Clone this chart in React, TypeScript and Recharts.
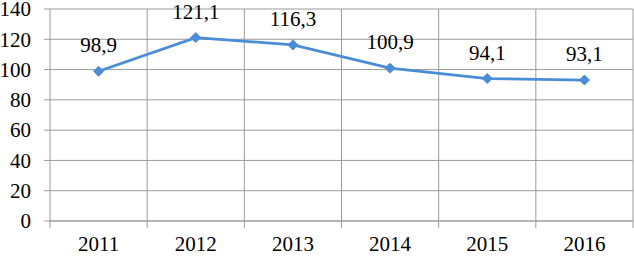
import React from 'react';
import { LineChart, Line, XAxis, YAxis, CartesianGrid, LabelList } from 'recharts';

const years = ['2011', '2012', '2013', '2014', '2015', '2016'];
const values = [98.9, 121.1, 116.3, 100.9, 94.1, 93.1];
const yTicks = [0, 20, 40, 60, 80, 100, 120, 140];

const data = years.map((year, i) => ({ year, value: values[i] }));

const W = 634;
const H = 256;
const M = { top: 9, right: 1, left: 0, bottom: 0 };
const Y_AXIS_W = 50;
const X_AXIS_H = 35;
const PLOT_W = W - M.left - M.right - Y_AXIS_W;
const STEP = PLOT_W / years.length;
const GRID = '#9a9a9a';
const LINE = '#4a8cd6';
const FONT = '"Liberation Serif", "Times New Roman", serif';

const X_TICK_SIZE = 7;
const X_TICK_MARGIN = 8;

const XTick = (props: any) => {
  const { x, y, payload, index } = props;
  const axisY = y - X_TICK_SIZE - X_TICK_MARGIN;
  return (
    <g>
      <line x1={x - STEP / 2} x2={x - STEP / 2} y1={axisY} y2={axisY + X_TICK_SIZE} stroke={GRID} />
      {index === years.length - 1 && (
        <line x1={x + STEP / 2} x2={x + STEP / 2} y1={axisY} y2={axisY + X_TICK_SIZE} stroke={GRID} />
      )}
      <text x={x} y={y} dy="0.71em" textAnchor="middle" fill="#000" fontSize={21} style={{ fontFamily: FONT }}>
        {payload.value}
      </text>
    </g>
  );
};

const YTick = (props: any) => {
  const { x, y, payload } = props;
  return (
    <text x={x} y={y} dy="0.35em" textAnchor="end" fill="#000" fontSize={21} style={{ fontFamily: FONT }}>
      {payload.value}
    </text>
  );
};

const Diamond = (props: any) => {
  const { cx, cy } = props;
  if (cx == null || cy == null) return null;
  const r = 5;
  return (
    <polygon
      points={`${cx},${cy - r} ${cx + r},${cy} ${cx},${cy + r} ${cx - r},${cy}`}
      fill={LINE}
      stroke={LINE}
    />
  );
};

export default function App() {
  return (
    <div style={{ position: 'absolute', left: 0, top: 0, width: W, height: H, background: '#fff', fontFamily: FONT }}>
      <LineChart width={W} height={H} data={data} margin={M} style={{ fontFamily: FONT }}>
        <CartesianGrid
          stroke={GRID}
          verticalCoordinatesGenerator={({ offset }: any) =>
            years.map((_, i) => offset.left + (i + 1) * (offset.width / years.length))
          }
        />
        <XAxis
          dataKey="year"
          height={X_AXIS_H}
          stroke={GRID}
          tickLine={false}
          tickSize={X_TICK_SIZE}
          tickMargin={X_TICK_MARGIN}
          tick={<XTick />}
          interval={0}
          padding={{ left: STEP / 2, right: STEP / 2 }}
        />
        <YAxis
          width={Y_AXIS_W}
          domain={[0, 140]}
          ticks={yTicks}
          stroke={GRID}
          tickSize={6}
          tickMargin={13}
          tick={<YTick />}
          interval={0}
        />
        <Line
          type="linear"
          dataKey="value"
          stroke={LINE}
          strokeWidth={2.75}
          dot={<Diamond />}
          activeDot={false}
          isAnimationActive={false}
        >
          <LabelList
            dataKey="value"
            position="top"
            offset={19}
            fill="#000"
            fontSize={21}
            style={{ fontFamily: FONT }}
            formatter={(v: any) => String(v).replace('.', ',')}
          />
        </Line>
      </LineChart>
    </div>
  );
}
